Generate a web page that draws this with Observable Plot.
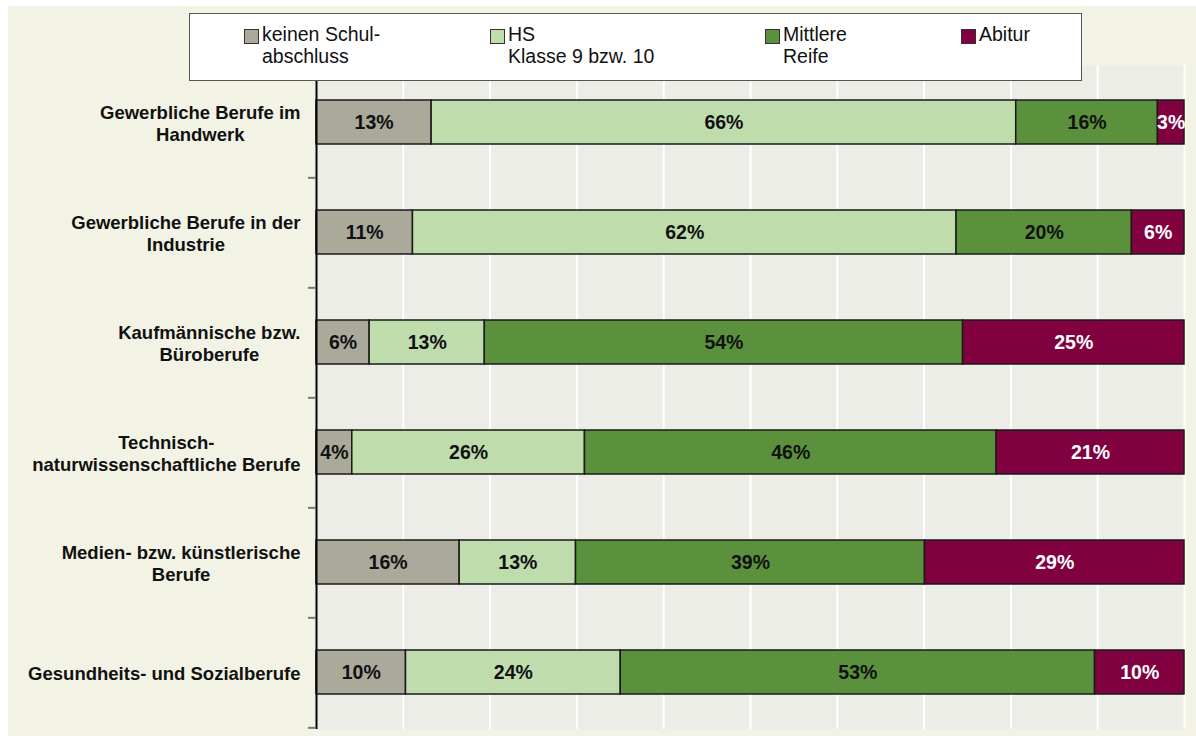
<!DOCTYPE html>
<html><head><meta charset="utf-8">
<script src="https://cdn.jsdelivr.net/npm/d3@7"></script>
<script src="https://cdn.jsdelivr.net/npm/@observablehq/plot@0.6"></script>
<style>
body{margin:0;background:#fff;font-family:"Liberation Sans",Arial,sans-serif;}
#wrap{position:relative;width:1196px;height:738px;overflow:hidden;}
#panel{position:absolute;left:8px;top:6px;width:1188px;height:730px;background:#f3f3e5;}
#chart{position:absolute;left:0;top:0;}
#legend{position:absolute;left:189px;top:13px;width:891px;height:66px;background:#fff;border:1px solid #555;}
.sw{position:absolute;top:15px;width:13px;height:13px;border:1px solid #333;}
.lt{position:absolute;top:10px;font-size:19.5px;line-height:21.5px;color:#111;white-space:pre;}
</style>
</head><body>
<div id="wrap"><div id="panel"></div><div id="chart"></div><div id="legend"></div></div>
<script>
// ---- data ----
const categories = [
  "Gewerbliche Berufe im\nHandwerk",
  "Gewerbliche Berufe in der\nIndustrie",
  "Kaufmännische bzw.\nBüroberufe",
  "Technisch-\nnaturwissenschaftliche Berufe",
  "Medien- bzw. künstlerische\nBerufe",
  "Gesundheits- und Sozialberufe"
];
const eduLevels = ["keinen Schulabschluss", "HS Klasse 9 bzw. 10", "Mittlere Reife", "Abitur"];
const legendLabels = ["keinen Schul-\nabschluss", "HS\nKlasse 9 bzw. 10", "Mittlere\nReife", "Abitur"];
const keinen   = [13, 11, 6, 4, 16, 10];
const hs       = [66, 62, 13, 26, 13, 24];
const mittlere = [16, 20, 54, 46, 39, 53];
const abitur   = [3, 6, 25, 21, 29, 10];
const colors = ["#aaa99a", "#bfdcad", "#5b913c", "#800040"];

// ---- build table ----
const series = [keinen, hs, mittlere, abitur];
const data = [];
categories.forEach((c, i) => eduLevels.forEach((e, j) => data.push({cat: c, edu: e, value: series[j][i]})));

const W = 1196, H = 738, mt = 65, mb = 9, ml = 316, mr = 12;
const step = (H - mt - mb) / categories.length;

// measure label widths for right-aligned blocks with centered lines
const ctx = document.createElement("canvas").getContext("2d");
ctx.font = "bold 18.5px 'Liberation Sans', Arial";
const blockW = c => Math.max(...c.split("\n").map(s => ctx.measureText(s).width));

const stackOpts = {x: "value", y: "cat", z: "edu", order: eduLevels, offset: "normalize"};

const labelMarks = categories.map(c => Plot.text([c], {
  x: 0, y: d => d, text: d => d, textAnchor: "middle",
  dx: -(16 + blockW(c) / 2), fontWeight: "bold", fontSize: 18.5, lineHeight: 1.19, fill: "#111"
}));

const chart = Plot.plot({
  width: W, height: H,
  marginTop: mt, marginBottom: mb, marginLeft: ml, marginRight: mr,
  style: {background: "transparent", fontFamily: "'Liberation Sans', Arial, sans-serif"},
  x: {domain: [0, 1], axis: null},
  y: {domain: categories, axis: null, paddingInner: 0.6, paddingOuter: 0.3},
  color: {domain: eduLevels, range: colors},
  marks: [
    Plot.frame({fill: "#ecede7", stroke: "none"}),
    Plot.gridX({ticks: 10, stroke: "white", strokeOpacity: 1, strokeWidth: 2}),
    Plot.barX(data, Plot.stackX({...stackOpts, fill: "edu", stroke: "#1a1a1a", strokeWidth: 1.5})),
    Plot.text(data, Plot.filter(d => d.edu !== "Abitur", Plot.stackX({...stackOpts, text: d => d.value + "%", fill: "#111", fontWeight: "bold", fontSize: 19.5}))),
    Plot.text(data, Plot.filter(d => d.edu === "Abitur", Plot.stackX({...stackOpts, text: d => d.value + "%", fill: "white", fontWeight: "bold", fontSize: 19.5}))),
    Plot.ruleX([0], {stroke: "black", strokeWidth: 2}),
    Plot.ruleY(categories, {y: d => d, x1: 0, x2: 0, insetLeft: -8, dy: step / 2, stroke: "#777", strokeWidth: 2}),
    ...labelMarks
  ]
});
document.getElementById("chart").appendChild(chart);

// ---- legend ----
const swLeft = [54, 300, 575, 771];
const leg = document.getElementById("legend");
legendLabels.forEach((t, i) => {
  const s = document.createElement("div");
  s.className = "sw"; s.style.left = swLeft[i] + "px"; s.style.background = colors[i];
  leg.appendChild(s);
  const l = document.createElement("div");
  l.className = "lt"; l.style.left = (swLeft[i] + 18) + "px"; l.textContent = t;
  leg.appendChild(l);
});
</script>
</body></html>
